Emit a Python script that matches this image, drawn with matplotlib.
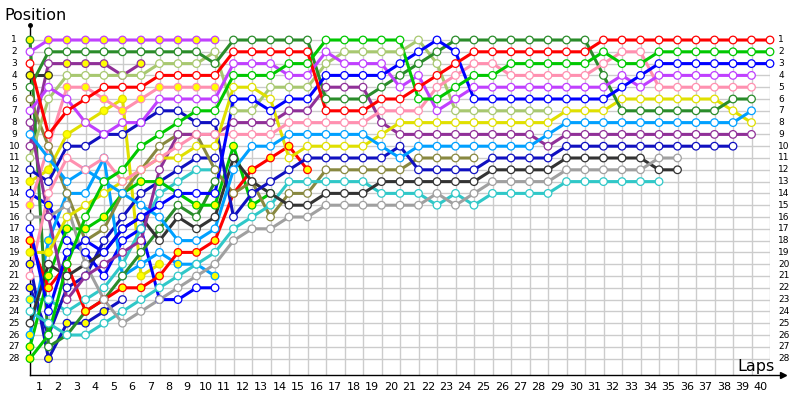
import numpy as np
import matplotlib.pyplot as plt

N = None
laps = list(range(0, 41))

# position of each car at the end of each lap (lap 0 = grid), None = not running
red_a = [3,9,7,6,5,5,5,4,4,4,4, 2,2,2,2,2, 7,7,7,6,6, 5,4,3,2,2, 2,2,2,2,2, 1,1,1,1,1, 1,1,1,1,1]
green_a = [28,26,20,16,13,12,10,9,8,7,7, 4,4,4,3,3, 1,1,1,1,1, 6,6,5,4,4, 3,3,3,3,3, 2,3,3,2,2, 2,2,2,2,2]
blue_a = [17,24,19,18,19,17,16,15,14,14,14, 6,6,7,6,6, 4,4,4,4,3, 2,1,2,6,6, 6,6,6,6,6, 6,5,4,3,3, 3,3,3,3,3]
violet_a = [7,5,6,8,9,8,8,6,6,6,6, 3,3,3,4,4, 2,3,3,3,5, 4,7,6,5,5, 5,5,5,5,5, 5,4,5,4,4, 4,4,4,4,N]
pink_a = [21,14,11,12,11,13,12,11,10,9,9, 9,9,9,8,8, 8,8,8,7,7, 7,5,4,3,3, 4,4,4,4,4, 3,2,2,5,5, 5,5,5,5,N]
dkgreen_a = [5,2,2,2,2,2,2,2,2,2,3, 1,1,1,1,1, 6,6,6,5,4, 3,2,1,1,1, 1,1,1,1,1, 4,7,7,7,7, 7,7,6,6,N]
ltblue_a = [9,11,13,12,13,14,15,16,18,18,17, 12,10,10,9,9, 9,9,9,10,11, 10,10,10,10,10, 10,10,9,8,8, 8,8,8,8,8, 8,8,8,7,N]
yellow_a = [19,19,16,15,14,13,12,11,11,10,10, 5,5,6,11,10, 10,10,10,9,8, 8,8,8,8,8, 8,8,8,7,7, 7,6,6,6,6, 6,6,7,8,N]
dkpurple_a = [8,16,23,21,20,19,18,12,9,9,9, 8,8,8,7,7, 5,5,5,8,9, 9,9,9,9,9, 9,9,10,9,9, 9,9,9,9,9, 9,9,9,9,N]
navy_a = [12,13,10,10,9,9,8,7,7,8,8, 16,14,13,12,11, 11,11,11,11,10, 12,12,12,12,11, 11,11,11,10,10, 10,10,10,10,10, 10,10,10,N,N]
ltgray_a = [16,16,15,20,23,25,24,23,22,21,20, 18,17,17,16,16, 15,15,15,15,15, 15,14,15,14,13, 13,13,13,12,12, 12,12,12,11,11, N,N,N,N,N]
dkgray_a = [25,20,21,20,19,17,16,18,16,17,16, 11,13,14,15,15, 14,14,14,13,13, 13,13,13,13,12, 12,12,12,11,11, 11,11,11,12,12, N,N,N,N,N]
cyan_a = [24,25,26,26,25,24,23,22,21,20,19, 17,16,15,13,13, 13,13,13,14,14, 14,15,14,15,14, 14,14,14,13,13, 13,13,13,13,N, N,N,N,N,N]
ltgreen_a = [11,6,4,4,4,4,4,3,3,3,2, 7,7,5,5,5, 3,2,2,2,2, 1,3,7,7,7, 7,7,7,N,N, N,N,N,N,N, N,N,N,N,N]
olive_a = [6,10,14,18,17,14,12,10,9,9,12, 14,13,16,14,14, 12,12,12,12,12, 11,11,11,11,N, N,N,N,N,N, N,N,N,N,N, N,N,N,N,N]
violet_b = [2,1,1,1,1,1,1,1,1,1,1] + [N]*30
pink_b = [15,10,5,5,6,7,6,5,5,5,5] + [N]*30
red_b = [18,22,20,24,23,22,22,21,19,19,18, 14,12,11,10,12] + [N]*25
green_b = [27,21,17,17,16,14,13,13,14,15,15, 10,15,14] + [N]*27
dkgreen_b = [1,27,26,24,23,21,19,17,15,16,13] + [N]*30
black_b = [4,4] + [N]*39
yellow_b = [13,12,9,8,7,6,21,20] + [N]*33
ltblue_b = [26,18,14,14,11,21,20,19,20,20,21] + [N]*30
navy_b = [20,28,25,25,24,23] + [N]*35
navy_c = [22,26,22,21,18,16,14,13,12,11,11] + [N]*30
cyan_b = [23,23,24,23,22,20,17,14,13,12,12] + [N]*30
dkpurple_b = [10,3,3,3,3,4,3] + [N]*34
blue_b = [14,15,18,19,21,18,17,23,23,22,22] + [N]*30

# laps drawn with a yellow marker face
yellow_laps = {
    'violet_b': range(1, 11), 'pink_b': range(0, 11), 'red_b': range(0, 16),
    'green_b': range(0, 14), 'dkgreen_b': [0], 'black_b': [0, 1],
    'yellow_b': range(0, 8), 'ltblue_b': [0, 1, 8, 9, 10], 'navy_b': range(0, 5),
    'navy_c': [0], 'cyan_b': [0], 'dkpurple_b': range(2, 7), 'blue_b': [1],
    'yellow_a': [0, 1], 'green_a': [0],
}

cars = [
    ('black_b', black_b, '#333333'), ('navy_b', navy_b, '#1010c0'),
    ('dkpurple_b', dkpurple_b, '#903098'), ('yellow_b', yellow_b, '#e0e000'),
    ('blue_b', blue_b, '#0000ff'), ('cyan_b', cyan_b, '#30c8c8'),
    ('navy_c', navy_c, '#1010c0'), ('ltblue_b', ltblue_b, '#00a0ff'),
    ('dkgreen_b', dkgreen_b, '#2a8c2a'), ('green_b', green_b, '#00c800'),
    ('pink_b', pink_b, '#ff90b0'), ('violet_b', violet_b, '#c040ff'),
    ('red_b', red_b, '#ff0000'), ('olive_a', olive_a, '#888840'),
    ('ltgreen_a', ltgreen_a, '#a8c870'), ('cyan_a', cyan_a, '#30c8c8'),
    ('dkgray_a', dkgray_a, '#333333'), ('ltgray_a', ltgray_a, '#a0a0a0'),
    ('navy_a', navy_a, '#1010c0'), ('dkpurple_a', dkpurple_a, '#903098'),
    ('yellow_a', yellow_a, '#e0e000'), ('ltblue_a', ltblue_a, '#00a0ff'),
    ('dkgreen_a', dkgreen_a, '#2a8c2a'), ('pink_a', pink_a, '#ff90b0'),
    ('violet_a', violet_a, '#c040ff'), ('blue_a', blue_a, '#0000ff'),
    ('green_a', green_a, '#00c800'), ('red_a', red_a, '#ff0000'),
]

npos = 28
nlaps = 40

fig = plt.figure(figsize=(8, 4), dpi=100)
# lap 0 at x=30px, lap 40 at x=770px; pos 1 at y=40px, bottom axis at y=375px
ax = fig.add_axes([30/800, 25/400, 740/800, 345/400])
ax.set_xlim(0, nlaps)
ybot = 1 + 335/11.8
ax.set_ylim(ybot, 1 - 10/11.8)
ax.axis('off')

# grid
for p in range(1, npos + 1):
    ax.plot([0, nlaps], [p, p], color='#cccccc', lw=1, zorder=0)
for l in range(0, nlaps + 1):
    ax.plot([l, l], [1, ybot], color='#cccccc', lw=1, zorder=0)

# axes with arrows
ax.plot([0, 0], [ybot, 1 - 15/11.8], color='black', lw=1, clip_on=False, zorder=1)
ax.plot([0], [1 - 15/11.8], marker='o', ms=2.5, color='black', clip_on=False)
ax.plot([0, nlaps + 0.7], [ybot, ybot], color='black', lw=1, clip_on=False, zorder=1)
ax.plot([nlaps + 0.7], [ybot], marker='>', ms=4, color='black', clip_on=False)

for name, pos, col in cars:
    x = [l for l, p in zip(laps, pos) if p is not None]
    y = [p for p in pos if p is not None]
    ax.plot(x, y, color=col, lw=2.2, solid_capstyle='round', zorder=2, clip_on=False)
    yl = set(yellow_laps.get(name, []))
    faces = ['#ffff00' if l in yl else 'white' for l in x]
    ax.scatter(x, y, s=30, c=faces, edgecolors=col, linewidths=0.9, zorder=3, clip_on=False)

# tick labels
for p in range(1, npos + 1):
    ax.text(-0.85, p, str(p), ha='center', va='center', fontsize=6.5)
    ax.text(nlaps + 0.45, p, str(p), ha='left', va='center', fontsize=6.5)
for l in range(1, nlaps + 1):
    ax.text(l - 0.5, ybot + 1.0, str(l), ha='center', va='center', fontsize=8)

fig.text(4/800, 1 - 16/400, 'Position', ha='left', va='center', fontsize=11.5)
fig.text(775/800, 1 - 367/400, 'Laps', ha='right', va='center', fontsize=11.5)

fig.savefig('out.png', dpi=100)
